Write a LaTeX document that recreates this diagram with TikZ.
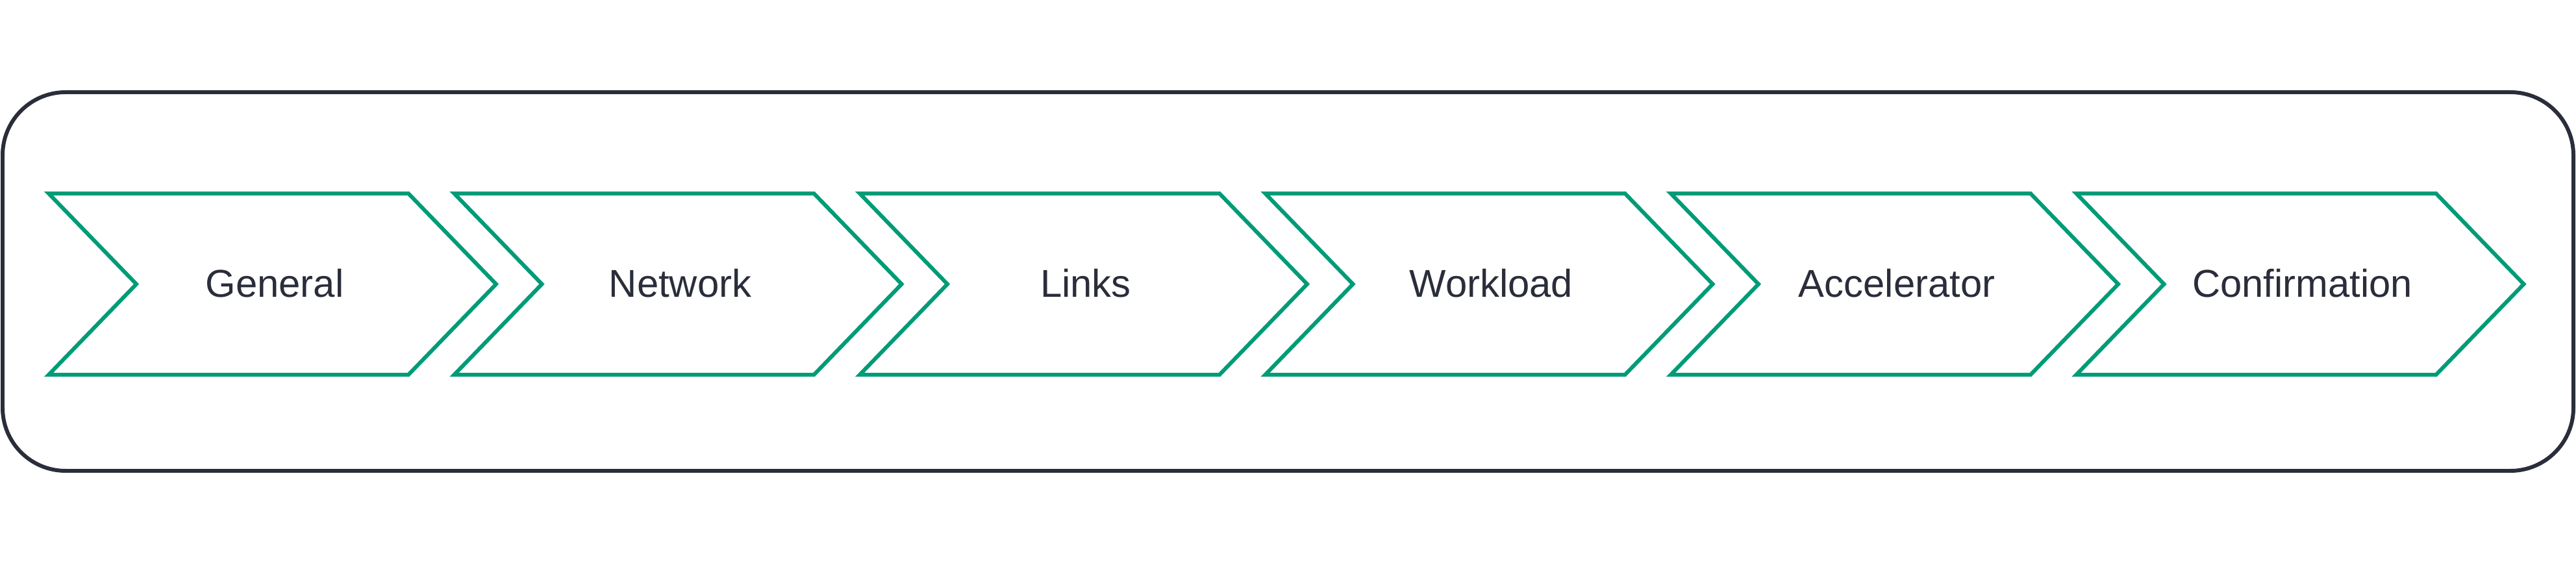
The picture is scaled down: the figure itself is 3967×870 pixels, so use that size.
\documentclass[tikz,border=0pt]{standalone}
\usepackage{fontspec}
\setmainfont{Liberation Sans}
\definecolor{stepgreen}{HTML}{009B77}
\definecolor{framegray}{HTML}{2A2D3A}
\tikzset{
  chevron/.style={draw=stepgreen, line width=1.7pt, line join=miter},
  steplabel/.style={text=framegray, font=\fontsize{17}{20}\selectfont},
}
\begin{document}
\begin{tikzpicture}[x=0.01cm,y=0.01cm]
  \useasboundingbox (0,0) rectangle (3967,870);
  \draw[framegray, line width=1.7pt, rounded corners=0.97cm] (4,145) rectangle (3963,728);
  \foreach \name [count=\i from 0] in {General,Network,Links,Workload,Accelerator,Confirmation}{
    \pgfmathsetmacro{\xl}{75+624.5*\i}
    \draw[chevron] (\xl,572) -- ++(554,0) -- ++(135,-139.5) -- ++(-135,-139.5)
      -- ++(-554,0) -- ++(135,139.5) -- cycle;
    \node[steplabel] (\name) at (\xl+348,434) {\name};
  }
\end{tikzpicture}
\end{document}
